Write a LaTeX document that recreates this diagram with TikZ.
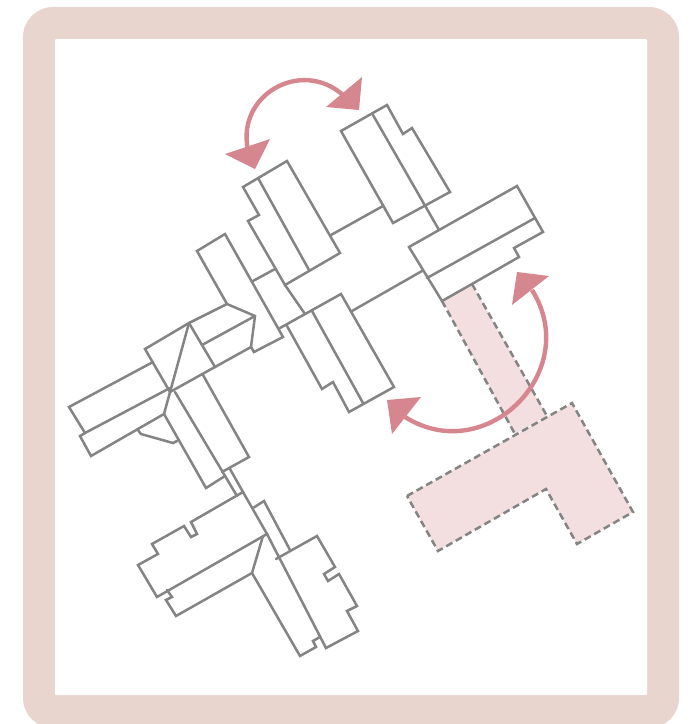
\documentclass[tikz,border=0pt]{standalone}
\usetikzlibrary{arrows.meta}
\definecolor{frameC}{HTML}{E8D5CE}
\definecolor{lineC}{HTML}{848484}
\definecolor{pinkC}{HTML}{F3DFDF}
\definecolor{arcC}{HTML}{D6868F}
\tikzset{
  wall/.style={draw=lineC,line width=2.5pt,line join=miter,line cap=round},
  dashedge/.style={draw=lineC,line width=2.5pt,dash pattern=on 7pt off 4pt},
  swing/.style={draw=arcC,line width=4.4pt},
  tipshape/.style={fill=arcC,draw=none}
}
\begin{document}
\begin{tikzpicture}[x=1pt,y=-1pt]
\useasboundingbox (0,0) rectangle (691,724);
\fill[white] (0,0) rectangle (691,724);
\begin{scope}
\clip (0,0) rectangle (691,724);
\fill[frameC,rounded corners=30pt] (23,7) rectangle (679,728);
\end{scope}
\fill[white,rounded corners=1pt] (55,39) rectangle (647,695);
% proposed extension
\fill[pinkC] (442,301) -- (472,284) -- (547,416) -- (515,434) -- cycle;
\fill[pinkC] (572,403) -- (633,512) -- (577,544) -- (546,489) -- (438,551) -- (407,496) -- cycle;
\draw[dashedge] (442,301) -- (515,434);
\draw[dashedge] (472,284) -- (547,416);
\draw[dashedge] (407,496) -- (572,403) -- (633,512) -- (577,544) -- (546,489) -- (438,551) -- cycle;
% arcs
\draw[swing] (343,95) .. controls (301,58) and (236,95) .. (248,150);
\fill[tipshape] (362,77) -- (326,107) -- (359,110) -- cycle;
\fill[tipshape] (270,139) -- (225,154) -- (255,169) -- cycle;
\draw[swing] (532,290) .. controls (583,371) and (486,468) .. (405,417);
\fill[tipshape] (549,276) -- (517,272) -- (512,305) -- cycle;
\fill[tipshape] (421,397) -- (387,400) -- (392,434) -- cycle;
% upper right building
\draw[wall] (341,131) -- (387,105) -- (403,134) -- (412,128) -- (450,192) -- (393,223) -- cycle;
\draw[wall] (373,115) -- (439,230);
% upper block
\draw[wall] (243,187) -- (287,161) -- (340,253) -- (285,285) -- (248,221) -- (259,215) -- cycle;
\draw[wall] (258,178) -- (309,270);
\draw[wall] (331,235) -- (383,206);
\draw[wall] (253,281) -- (275,269);
% north-west wing
\draw[wall] (227,304) -- (197,251) -- (225,234) -- (283,337) -- (254,352) -- (251,347) -- (215,367);
\draw[wall] (189,323) -- (227,304) -- (255,316) -- (251,347);
\draw[wall] (255,316) -- (202,345);
% tower
\draw[wall] (145,349) -- (189,323) -- (215,367) -- (170,392) -- cycle;
\draw[wall] (189,323) -- (164,414);
% west wing
\draw[wall] (153,362) -- (69,407) -- (85,433) -- (170,388);
\draw[wall] (85,433) -- (80,436) -- (91,456) -- (164,414);
\draw[wall] (138,430) -- (141,434) -- (173,443) -- (177,441);
% south wing
\draw[wall] (203,375) -- (249,457) -- (222,472);
\draw[wall] (175,392) -- (237,496);
\draw[wall] (164,414) -- (206,488) -- (225,476);
\draw[wall] (230,469) -- (243,492);
% central link
\draw[wall] (285,285) -- (305,314);
\draw[wall] (280,328) -- (341,294) -- (394,387) -- (349,412) -- (333,382) -- (322,389) -- (287,326);
\draw[wall] (312,311) -- (363,403);
\draw[wall] (352,311) -- (422,271);
% east block
\draw[wall] (409,247) -- (517,186) -- (543,232) -- (514,248) -- (519,257) -- (472,284) -- (442,301) -- cycle;
\draw[wall] (427,278) -- (535,218);
% lower block
\draw[wall] (243,492) -- (267,534) -- (157,597) -- (138,565) -- (158,554) -- (152,544) -- (184,526) -- (191,537) -- (197,534) -- (191,522) -- cycle;
\draw[wall] (267,534) -- (326,648) -- (358,631) -- (347,611) -- (357,606) -- (339,574) -- (328,581) -- (324,574) -- (335,567) -- (317,536) -- (276,559);
\draw[wall] (290,550) -- (264,501) -- (253,508);
\draw[wall] (167,590) -- (172,597) -- (166,600) -- (176,616) -- (252,573) -- (263,536);
\draw[wall] (252,573) -- (300,656) -- (316,647) -- (313,641) -- (320,637);
\end{tikzpicture}
\end{document}
